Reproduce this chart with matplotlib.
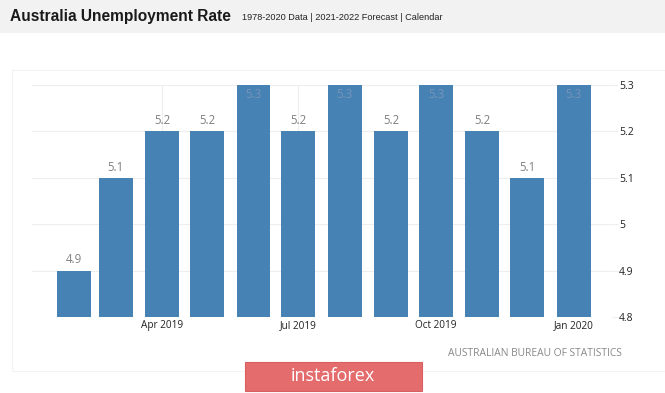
import pandas as pd
import matplotlib.pyplot as plt
from matplotlib.patches import Rectangle

months = ['2019-02-01', '2019-03-01', '2019-04-01', '2019-05-01', '2019-06-01', '2019-07-01',
          '2019-08-01', '2019-09-01', '2019-10-01', '2019-11-01', '2019-12-01', '2020-01-01']
rates = [4.9, 5.1, 5.2, 5.2, 5.3, 5.2, 5.3, 5.2, 5.3, 5.2, 5.1, 5.3]
tick_dates = ['2019-04-01', '2019-07-01', '2019-10-01', '2020-01-01']
tick_labels = ['Apr 2019', 'Jul 2019', 'Oct 2019', 'Jan 2020']
y_ticks = [4.8, 4.9, 5.0, 5.1, 5.2, 5.3]
y_labels = ['4.8', '4.9', '5', '5.1', '5.2', '5.3']

W, H = 665, 393
dates = pd.to_datetime(months)

fig = plt.figure(figsize=(W / 100, H / 100), dpi=100)
fig.patch.set_facecolor('white')

def px(x, y):
    return x / W, 1 - y / H

# header band
fig.patches.append(Rectangle(px(0, 33), 1, 33 / H, transform=fig.transFigure,
                             facecolor='#f2f2f2', edgecolor='none', zorder=0))
fig.text(*px(10, 17), 'Australia Unemployment Rate', fontsize=11.2, fontweight='bold',
         family=['Liberation Sans', 'DejaVu Sans'], color='#1a1a1a', va='center')
fig.text(*px(242, 17), '1978-2020 Data | 2021-2022 Forecast | Calendar', fontsize=6.6,
         family=['Liberation Sans Narrow', 'Liberation Sans', 'DejaVu Sans'],
         color='#222222', va='center')

# faint panel border
fig.patches.append(Rectangle(px(12, 371), (W - 12) / W, (371 - 70) / H, transform=fig.transFigure,
                             facecolor='none', edgecolor='#f3f3f3', linewidth=0.8, zorder=0))

ax = fig.add_axes([32 / W, 1 - 317 / H, (612 - 32) / W, (317 - 85) / H])
ax.bar(dates, [r - 4.8 for r in rates], bottom=4.8, width=22.7, color='#4682b4', zorder=2)

ax.set_ylim(4.8, 5.3)
ax.set_xlim(pd.Timestamp('2019-01-03 22:00'), pd.Timestamp('2020-01-26 16:00'))

for d, r in zip(dates, rates):
    if r >= 5.3:
        ax.annotate(f'{r:.1f}', (d, r), xytext=(0, -2), textcoords='offset points',
                    ha='center', va='top', fontsize=8.3, family='Open Sans',
                    color='#7894b8', zorder=3)
    else:
        ax.annotate(f'{r:.1f}', (d, r), xytext=(0, 3), textcoords='offset points',
                    ha='center', va='bottom', fontsize=8.3, family='Open Sans',
                    color='#808080', zorder=3)

ax.set_xticks(pd.to_datetime(tick_dates))
ax.set_xticklabels(tick_labels, fontsize=7.2, family='Open Sans', color='#222222')
ax.set_yticks(y_ticks)
ax.set_yticklabels(y_labels, fontsize=7.5, family='Open Sans', color='#222222')
ax.yaxis.tick_right()
ax.tick_params(axis='x', length=0, pad=2)
ax.tick_params(axis='y', length=4, color='#eeeeee', pad=1)
ax.grid(True, color='#eeeeee', linewidth=0.8, zorder=0)
ax.set_axisbelow(True)
for s in ax.spines.values():
    s.set_visible(False)

fig.text(*px(622, 354), 'AUSTRALIAN BUREAU OF STATISTICS', fontsize=7.4, family='Open Sans',
         color='#888888', ha='right', va='center')

# watermark box
fig.patches.append(Rectangle(px(245, 391), 177 / W, 29 / H, transform=fig.transFigure,
                             facecolor='#e46c6c', edgecolor='#d96060', linewidth=0.8, zorder=5))
fig.text(*px(333, 376), 'instaforex', fontsize=13, family='Open Sans', color='white',
         ha='center', va='center', zorder=6)

plt.savefig('out.png', dpi=100, facecolor='white')
